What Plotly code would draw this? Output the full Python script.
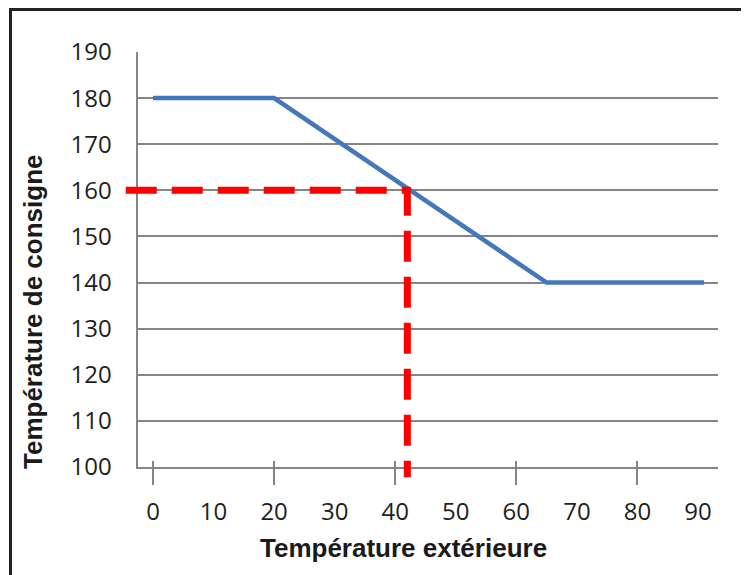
import plotly.graph_objects as go

# Data
consigne_x = [0, 20, 65, 91]
consigne_y = [180, 180, 140, 140]
lecture_x = [-4.5, 42, 42]
lecture_y = [160, 160, 97.8]
x_tick_vals = [0, 10, 20, 30, 40, 50, 60, 70, 80, 90]
x_mark_vals = [0, 20, 40, 60, 80]
y_tick_vals = [100, 110, 120, 130, 140, 150, 160, 170, 180, 190]
x_title = "Température extérieure"
y_title = "Température de consigne"

# Layout geometry (figure pixels)
W, H = 741, 567
L, R, T, B = 110, 31, 44, 92
PW, PH = W - L - R, H - T - B
main_left, main_bottom = 129.5, 459.0   # where the visible axes sit
XR = [-2.56, 93.3]
YR = [100, 190]

dx0 = (main_left - L) / PW
dy0 = (H - B - main_bottom) / PH
# extended (invisible) axes sharing the same scale, so the reading line can overshoot the frame
sx = (PW * (1 - dx0)) / (XR[1] - XR[0])
sy = (PH * (1 - dy0)) / (YR[1] - YR[0])
XR_ext = [XR[0] - (main_left - L) / sx, XR[1]]
YR_ext = [YR[0] - (H - B - main_bottom) / sy, YR[1]]

def px(fx):
    return (fx - L) / PW

def py(fy):
    return (H - B - fy) / PH

fig = go.Figure()
fig.add_trace(go.Scatter(x=consigne_x, y=consigne_y, mode="lines",
                         line=dict(color="#4677BD", width=4.5),
                         hoverinfo="skip", showlegend=False))
fig.add_trace(go.Scatter(x=lecture_x, y=lecture_y, mode="lines",
                         line=dict(color="#FF0000", width=7, dash="31px,15px"),
                         hoverinfo="skip", showlegend=False,
                         xaxis="x4", yaxis="y4"))
fig.add_trace(go.Scatter(x=[None], y=[None], xaxis="x2", showlegend=False, hoverinfo="skip"))
fig.add_trace(go.Scatter(x=[None], y=[None], xaxis="x3", showlegend=False, hoverinfo="skip"))

grid_col = "#858585"
tick_font = dict(family="Open Sans", size=24, color="#1E1E1E")

fig.update_layout(
    width=W, height=H,
    margin=dict(l=L, r=R, t=T, b=B),
    paper_bgcolor="white", plot_bgcolor="rgba(0,0,0,0)",
    xaxis=dict(domain=[dx0, 1], range=XR, tickvals=x_tick_vals, ticks="", showgrid=False,
               showline=True, linecolor=grid_col, linewidth=2,
               tickfont=tick_font, ticklabelstandoff=22, zeroline=False,
               layer="below traces"),
    xaxis2=dict(range=XR, overlaying="x", side="bottom", tickvals=x_mark_vals,
                ticks="outside", ticklen=17, tickwidth=2, tickcolor=grid_col,
                showticklabels=False, showgrid=False, showline=False, zeroline=False),
    xaxis3=dict(range=XR, overlaying="x", side="bottom", tickvals=x_mark_vals,
                ticks="inside", ticklen=6, tickwidth=2, tickcolor=grid_col,
                showticklabels=False, showgrid=False, showline=False, zeroline=False),
    yaxis=dict(domain=[dy0, 1], range=YR, tickvals=y_tick_vals, ticks="", showgrid=True,
               gridcolor=grid_col, gridwidth=1.5, showline=True,
               linecolor=grid_col, linewidth=2, tickfont=tick_font,
               ticklabelstandoff=19, zeroline=False, layer="below traces"),
    xaxis4=dict(domain=[0, 1], range=XR_ext, anchor="y4", visible=False),
    yaxis4=dict(domain=[0, 1], range=YR_ext, anchor="x4", visible=False),
)

fig.add_annotation(text=y_title, xref="paper", yref="paper", x=px(25), y=py(304),
                   xanchor="center", yanchor="middle",
                   textangle=-90, showarrow=False,
                   font=dict(family="Liberation Sans", size=26, color="#1A1A1A", weight="bold"))
fig.add_annotation(text=x_title, xref="paper", yref="paper", x=px(395), y=py(540),
                   xanchor="center", yanchor="middle",
                   showarrow=False,
                   font=dict(family="Liberation Sans", size=26, color="#1A1A1A", weight="bold"))

fig.add_shape(type="rect", xref="paper", yref="paper",
              x0=px(2.5), x1=px(739.5), y0=py(600), y1=py(1.5),
              line=dict(color="#222222", width=3), fillcolor="rgba(0,0,0,0)")

fig.write_html("out.html")
